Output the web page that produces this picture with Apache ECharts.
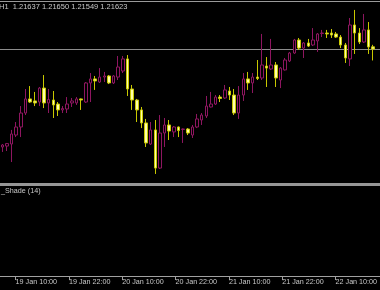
<!DOCTYPE html>
<html><head><meta charset="utf-8">
<script src="https://cdn.jsdelivr.net/npm/echarts@6/dist/echarts.min.js"></script>
<style>html,body{margin:0;padding:0;background:#000;overflow:hidden}#c{width:380px;height:290px}</style>
</head><body><div id="c"></div>
<script>
const categories = [
 '19 Jan 07:00','19 Jan 08:00','19 Jan 09:00','19 Jan 10:00','19 Jan 11:00','19 Jan 12:00','19 Jan 13:00','19 Jan 14:00','19 Jan 15:00','19 Jan 16:00','19 Jan 17:00','19 Jan 18:00','19 Jan 19:00','19 Jan 20:00','19 Jan 21:00','19 Jan 22:00','19 Jan 23:00',
 '20 Jan 00:00','20 Jan 01:00','20 Jan 02:00','20 Jan 03:00','20 Jan 04:00','20 Jan 05:00','20 Jan 06:00','20 Jan 07:00','20 Jan 08:00','20 Jan 09:00','20 Jan 10:00','20 Jan 11:00','20 Jan 12:00','20 Jan 13:00','20 Jan 14:00','20 Jan 15:00','20 Jan 16:00','20 Jan 17:00','20 Jan 18:00','20 Jan 19:00','20 Jan 20:00','20 Jan 21:00','20 Jan 22:00','20 Jan 23:00',
 '21 Jan 00:00','21 Jan 01:00','21 Jan 02:00','21 Jan 03:00','21 Jan 04:00','21 Jan 05:00','21 Jan 06:00','21 Jan 07:00','21 Jan 08:00','21 Jan 09:00','21 Jan 10:00','21 Jan 11:00','21 Jan 12:00','21 Jan 13:00','21 Jan 14:00','21 Jan 15:00','21 Jan 16:00','21 Jan 17:00','21 Jan 18:00','21 Jan 19:00','21 Jan 20:00','21 Jan 21:00','21 Jan 22:00','21 Jan 23:00',
 '22 Jan 00:00','22 Jan 01:00','22 Jan 02:00','22 Jan 03:00','22 Jan 04:00','22 Jan 05:00','22 Jan 06:00','22 Jan 07:00','22 Jan 08:00','22 Jan 09:00','22 Jan 10:00','22 Jan 11:00','22 Jan 12:00','22 Jan 13:00','22 Jan 14:00','22 Jan 15:00'
];
const tickLabels = ['19 Jan 10:00','19 Jan 22:00','20 Jan 10:00','20 Jan 22:00','21 Jan 10:00','21 Jan 22:00','22 Jan 10:00'];
const symbolPeriod = 'H1';
const indicatorName = '_Shade (14)';

const opens = [1.20991,1.20997,1.21010,1.21068,1.21120,1.21210,1.21301,1.21288,1.21281,1.21371,
 1.21275,1.21294,1.21268,1.21230,1.21236,1.21275,1.21275,1.21301,1.21281,1.21404,
 1.21430,1.21410,1.21442,1.21449,1.21404,1.21442,1.21481,1.21559,1.21365,1.21294,
 1.21230,1.21146,1.21010,1.21101,1.20855,1.21081,1.21133,1.21088,1.21120,1.21104,
 1.21107,1.21068,1.21120,1.21165,1.21191,1.21249,1.21268,1.21313,1.21307,1.21352,
 1.21326,1.21210,1.21326,1.21430,1.21404,1.21442,1.21436,1.21513,1.21494,1.21520,
 1.21423,1.21488,1.21546,1.21597,1.21681,1.21629,1.21662,1.21649,1.21675,1.21723,
 1.21726,1.21726,1.21720,1.21700,1.21649,1.21559,1.21778,1.21726,1.21668,1.21746,1.21637];
const closes = [1.21004,1.21013,1.21075,1.21120,1.21210,1.21301,1.21281,1.21275,1.21371,1.21275,
 1.21297,1.21262,1.21230,1.21239,1.21268,1.21288,1.21301,1.21294,1.21404,1.21430,
 1.21417,1.21442,1.21449,1.21404,1.21449,1.21507,1.21559,1.21365,1.21294,1.21230,
 1.21146,1.21017,1.21101,1.20855,1.21081,1.21133,1.21094,1.21120,1.21097,1.21107,
 1.21081,1.21120,1.21172,1.21197,1.21255,1.21268,1.21313,1.21304,1.21359,1.21326,
 1.21210,1.21326,1.21430,1.21404,1.21442,1.21433,1.21520,1.21500,1.21520,1.21436,
 1.21500,1.21552,1.21597,1.21681,1.21629,1.21662,1.21642,1.21681,1.21720,1.21726,
 1.21720,1.21713,1.21700,1.21649,1.21565,1.21778,1.21726,1.21668,1.21746,1.21636,1.21623];
const highs = [1.21010,1.21017,1.21101,1.21152,1.21255,1.21365,1.21384,1.21346,1.21378,1.21455,
 1.21365,1.21352,1.21281,1.21255,1.21313,1.21307,1.21313,1.21304,1.21410,1.21468,
 1.21449,1.21500,1.21475,1.21455,1.21455,1.21578,1.21578,1.21584,1.21391,1.21301,
 1.21249,1.21172,1.21152,1.21165,1.21197,1.21178,1.21165,1.21126,1.21123,1.21110,
 1.21113,1.21133,1.21204,1.21210,1.21320,1.21346,1.21326,1.21326,1.21391,1.21378,
 1.21365,1.21384,1.21468,1.21475,1.21468,1.21552,1.21720,1.21571,1.21688,1.21539,
 1.21507,1.21565,1.21604,1.21688,1.21694,1.21668,1.21688,1.21758,1.21726,1.21746,
 1.21746,1.21752,1.21733,1.21713,1.21662,1.21823,1.21875,1.21758,1.21849,1.21797,1.21650];
const lows = [1.20959,1.20965,1.20894,1.21055,1.21055,1.21197,1.21275,1.21255,1.21255,1.21242,
 1.21210,1.21178,1.21191,1.21210,1.21210,1.21249,1.21262,1.21230,1.21275,1.21281,
 1.21359,1.21404,1.21410,1.21397,1.21397,1.21423,1.21468,1.21320,1.21230,1.21152,
 1.21113,1.20991,1.21004,1.20817,1.20849,1.20991,1.21036,1.21055,1.21055,1.21017,
 1.21068,1.21049,1.21113,1.21133,1.21178,1.21246,1.21262,1.21281,1.21301,1.21294,
 1.21197,1.21172,1.21288,1.21359,1.21339,1.21423,1.21423,1.21378,1.21488,1.21378,
 1.21371,1.21484,1.21539,1.21591,1.21617,1.21565,1.21636,1.21642,1.21604,1.21700,
 1.21694,1.21694,1.21694,1.21629,1.21533,1.21513,1.21591,1.21655,1.21662,1.21591,1.21549];

const FONT = '"Liberation Sans", Arial, sans-serif';
const TXT = '#c8c8c8';
const last = closes.length - 1;
const header = symbolPeriod + '  ' + [opens[last], highs[last], lows[last], closes[last]].map(v => v.toFixed(5)).join(' ');
const candles = opens.map((o, i) => [o, closes[i], lows[i], highs[i]]);
const showTick = (idx, val) => tickLabels.indexOf(val) >= 0;

const chart = echarts.init(document.getElementById('c'), null, {renderer: 'canvas'});
chart.setOption({
  backgroundColor: '#000',
  animation: false,
  grid: [
    {left: -0.3, top: 2, width: 375.8, height: 180},
    {left: -0.3, top: 187, width: 375.8, height: 90}
  ],
  xAxis: [
    {type: 'category', data: categories, gridIndex: 0, show: false},
    {type: 'category', data: categories, gridIndex: 1,
     axisLine: {show: false},
     axisTick: {show: true, alignWithLabel: true, interval: showTick, length: 3, lineStyle: {color: '#a0a0a0'}},
     axisLabel: {interval: showTick, align: 'left', color: TXT, fontSize: 7.2, fontFamily: FONT, margin: 2},
     splitLine: {show: false}}
  ],
  yAxis: [
    {type: 'value', gridIndex: 0, min: 1.2076515, max: 1.2192615, show: false},
    {type: 'value', gridIndex: 1, min: 0, max: 1, show: false}
  ],
  series: [{
    type: 'candlestick', xAxisIndex: 0, yAxisIndex: 0, data: candles, barWidth: 3,
    itemStyle: {color: '#000', color0: '#ffffa8', borderColor: '#8e1660', borderColor0: '#c8c800', borderWidth: 1}
  }]
});

const bidY = chart.convertToPixel({yAxisIndex: 0}, closes[last]);
chart.setOption({
  graphic: [
    {type: 'line', shape: {x1: 0, y1: 1.5, x2: 380, y2: 1.5}, style: {stroke: '#9a9a9a', lineWidth: 1}},
    {type: 'line', z: -1, shape: {x1: 0, y1: Math.round(bidY) + 0.5, x2: 380, y2: Math.round(bidY) + 0.5}, style: {stroke: '#8c8c8c', lineWidth: 1}},
    {type: 'text', x: -1, y: 3, style: {text: header, fill: TXT, font: '7.5px ' + FONT, verticalAlign: 'top'}},
    {type: 'rect', shape: {x: 0, y: 183, width: 380, height: 3}, style: {fill: '#969696'}},
    {type: 'text', x: 1, y: 188, style: {text: indicatorName, fill: TXT, font: '7.2px ' + FONT, verticalAlign: 'top'}},
    {type: 'line', shape: {x1: 0, y1: 276.5, x2: 380, y2: 276.5}, style: {stroke: '#a0a0a0', lineWidth: 1}}
  ]
});
</script></body></html>
